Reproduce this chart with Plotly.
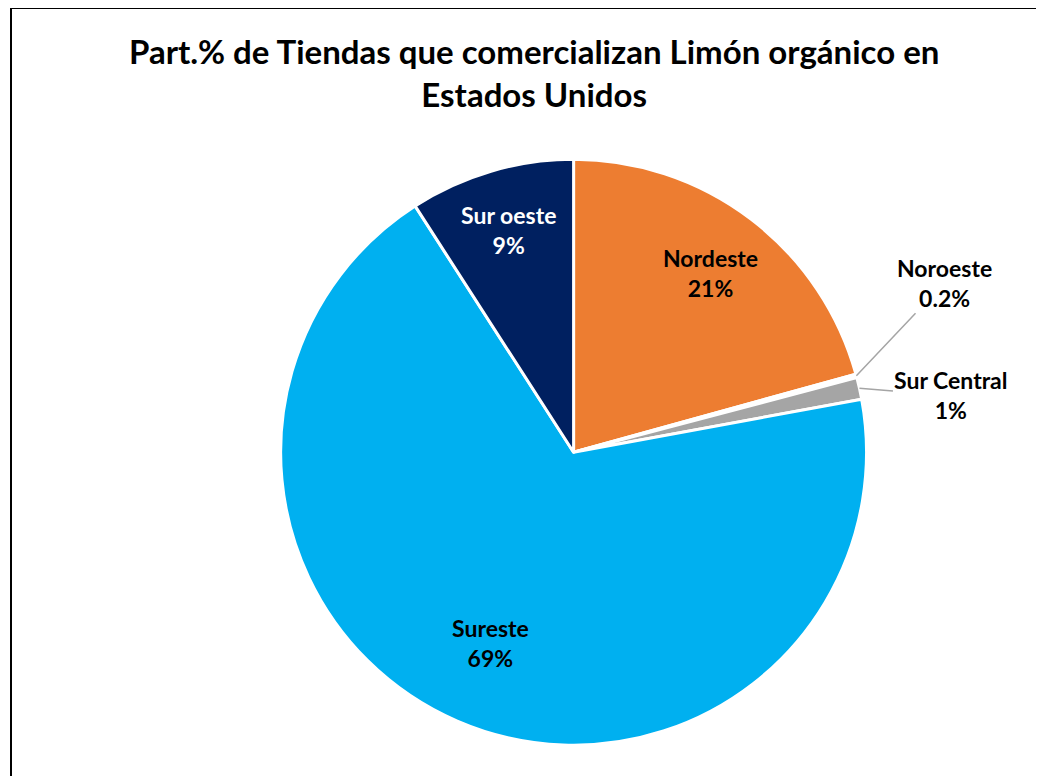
import math
import plotly.graph_objects as go

# Participación por región (valores estimados del gráfico)
regiones = ["Nordeste", "Noroeste", "Sur Central", "Sureste", "Sur oeste"]
participacion = [20.7, 0.2, 1.2, 68.8, 9.1]
etiquetas_pct = ["21%", "0.2%", "1%", "69%", "9%"]
colores = ["#ED7D31", "#FFFFFF", "#A5A5A5", "#00B0F0", "#002060"]
colores_texto = ["black", "black", "black", "black", "white"]

W, H = 1044, 776
dom_x = [0.261, 0.8225]
dom_y = [0.050, 0.805]

# ubicación de cada etiqueta: fracción del radio (internas) o desplazamiento en px (externas)
radio_etiqueta = {0: 0.77, 3: 0.71, 4: 0.79}
desfase_externo = {1: (88, -93), 2: (92, 7)}

fig = go.Figure()

fig.add_trace(
    go.Pie(
        labels=regiones,
        values=participacion,
        textinfo="none",
        marker=dict(colors=colores, line=dict(color="white", width=3)),
        sort=False,
        direction="clockwise",
        rotation=0,
        showlegend=False,
        domain=dict(x=dom_x, y=dom_y),
    )
)

cx = (dom_x[0] + dom_x[1]) / 2
cy = (dom_y[0] + dom_y[1]) / 2
r_px = min((dom_x[1] - dom_x[0]) * W, (dom_y[1] - dom_y[0]) * H) / 2
total = sum(participacion)
acum = 0
for i, v in enumerate(participacion):
    medio = (acum + v / 2) / total * 2 * math.pi
    acum += v
    texto = f"<b>{regiones[i]}<br>{etiquetas_pct[i]}</b>"
    if i in radio_etiqueta:
        f = radio_etiqueta[i]
        fig.add_annotation(
            x=cx + f * r_px * math.sin(medio) / W,
            y=cy + f * r_px * math.cos(medio) / H,
            xref="paper",
            yref="paper",
            xanchor="center",
            yanchor="middle",
            text=texto,
            showarrow=False,
            font=dict(family="Lato", size=23, color=colores_texto[i]),
        )
    else:
        dx, dy = desfase_externo[i]
        fig.add_annotation(
            x=cx + r_px * math.sin(medio) / W,
            y=cy + r_px * math.cos(medio) / H,
            xref="paper",
            yref="paper",
            text=texto,
            showarrow=True,
            arrowhead=0,
            arrowwidth=1.5,
            arrowcolor="#A5A5A5",
            ax=dx,
            ay=dy,
            font=dict(family="Lato", size=23, color=colores_texto[i]),
        )

fig.update_layout(
    title=dict(
        text="<b>Part.% de Tiendas que comercializan Limón orgánico en<br>Estados Unidos</b>",
        x=0.504,
        xanchor="center",
        y=1 - 56 / H,
        yanchor="top",
        font=dict(family="Lato", size=33, color="black"),
    ),
    width=W,
    height=H,
    margin=dict(l=0, r=0, t=0, b=0),
    paper_bgcolor="white",
    plot_bgcolor="white",
    shapes=[
        dict(
            type="rect",
            xref="paper",
            yref="paper",
            x0=3 / W,
            x1=1.05,
            y0=-0.05,
            y1=1,
            line=dict(color="black", width=2),
        )
    ],
)

fig.write_html("out.html")
